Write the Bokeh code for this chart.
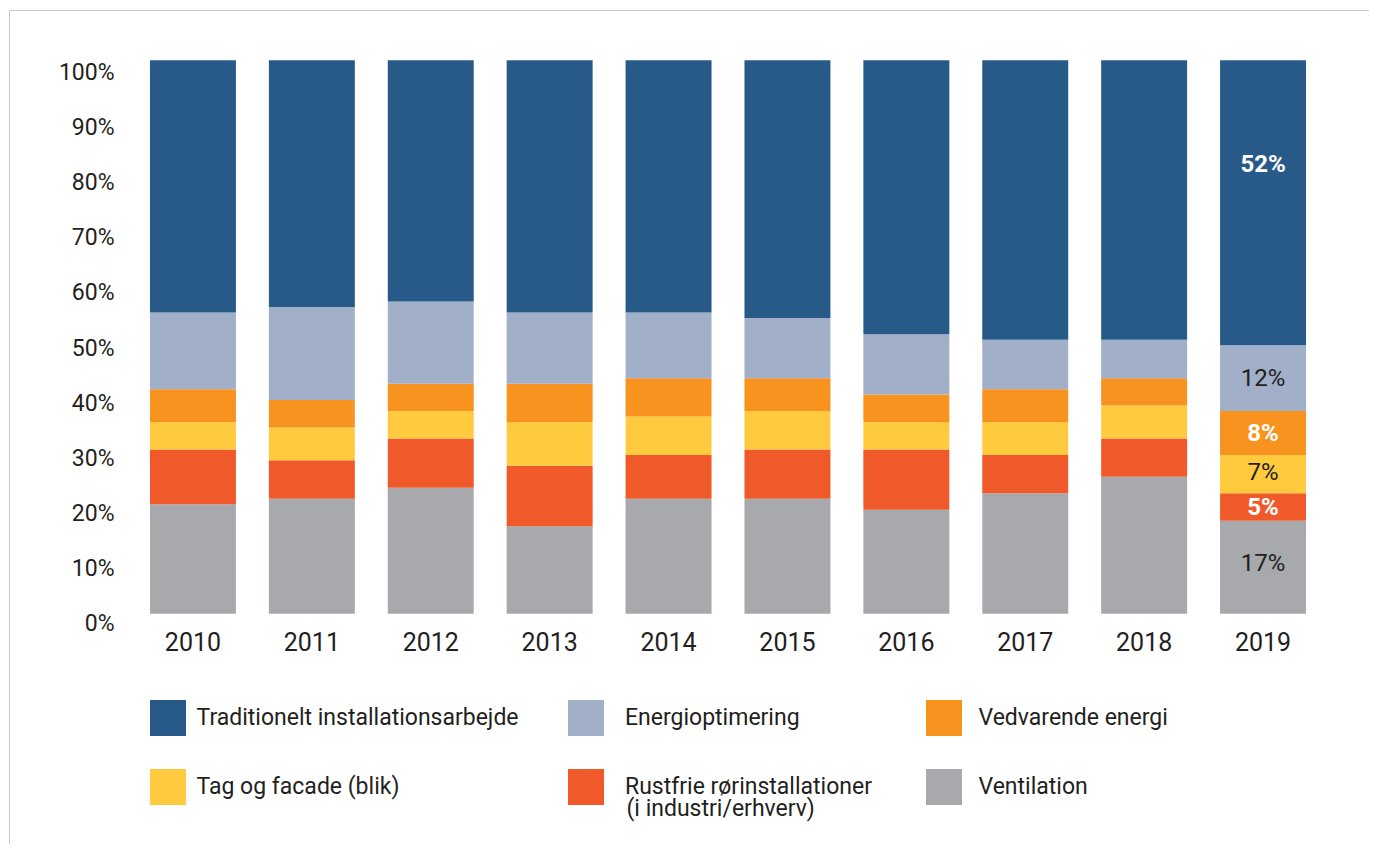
from bokeh.plotting import figure
from bokeh.models import (FactorRange, Range1d, LinearAxis, Legend, LegendItem,
                          Label, ColumnDataSource, FixedTicker)
from bokeh.core.properties import value
from bokeh.embed import file_html
from bokeh.resources import INLINE

# ---------------- data ----------------
years = ["2010", "2011", "2012", "2013", "2014", "2015", "2016", "2017", "2018", "2019"]

ventilation = [20, 21, 23, 16, 21, 21, 19, 22, 25, 17]
rustfrie = [10, 7, 9, 11, 8, 9, 11, 7, 7, 5]
tag_facade = [5, 6, 5, 8, 7, 7, 5, 6, 6, 7]
vedvarende = [6, 5, 5, 7, 7, 6, 5, 6, 5, 8]
energioptimering = [14, 17, 15, 13, 12, 11, 11, 9, 7, 12]
traditionelt = [46, 45, 44, 46, 46, 47, 50, 51, 51, 52]

series_names = ["Ventilation", "Rustfrie rørinstallationer", "Tag og facade (blik)",
                "Vedvarende energi", "Energioptimering", "Traditionelt installationsarbejde"]
series_name_line2 = "(i industri/erhverv)"
y_tick_values = [0, 10, 20, 30, 40, 50, 60, 70, 80, 90, 100]
y_tick_labels = ["0%", "10%", "20%", "30%", "40%", "50%", "60%", "70%", "80%", "90%", "100%"]

# ---------------- styles ----------------
keys = ["ventilation", "rustfrie", "tag", "vedvarende", "energi", "traditionelt"]
colors = ["#A8A9AD", "#F05A2B", "#FFCA3E", "#F7931E", "#A1AFC8", "#275A88"]
dark = "#231F20"
FONT = "Roboto"

src = ColumnDataSource(dict(year=years, ventilation=ventilation, rustfrie=rustfrie,
                            tag=tag_facade, vedvarende=vedvarende,
                            energi=energioptimering, traditionelt=traditionelt))

p = figure(x_range=FactorRange(factors=years, range_padding=0),
           y_range=Range1d(-42.28, 104.62),
           width=1360, height=834, output_backend="svg", toolbar_location=None,
           x_axis_location=None, y_axis_location=None,
           min_border_left=123, min_border_right=48, min_border_top=29, min_border_bottom=0)
p.styles = {"border-top": "1px solid #c8c8c8", "border-left": "1px solid #c8c8c8",
            "margin-left": "9px", "margin-top": "10px"}
p.extra_y_ranges = {"lab": Range1d(-40.19, 105.75)}
p.xgrid.visible = False
p.ygrid.visible = False
p.outline_line_color = None
p.background_fill_color = "white"
p.border_fill_color = "white"

rs = p.vbar_stack(keys, x="year", width=0.723, color=colors, line_width=0,
                  line_color=None, source=src)

# category labels under the bars
p.text(x=years, y=[0] * len(years), text=years, y_offset=28, text_align="center",
       text_baseline="middle", text_color=dark, text_font=value(FONT),
       text_font_size="25px")

# y axis (labels)
ya = LinearAxis(y_range_name="lab", ticker=FixedTicker(ticks=y_tick_values),
                major_label_overrides={v: l for v, l in zip(y_tick_values, y_tick_labels)})
ya.axis_line_color = None
ya.major_tick_line_color = None
ya.minor_tick_line_color = None
ya.major_tick_out = 0
ya.major_tick_in = 0
ya.minor_tick_out = 0
ya.major_label_standoff = 19
ya.major_label_text_font = FONT
ya.major_label_text_font_size = "23px"
ya.major_label_text_color = dark
p.add_layout(ya, "left")

# value labels for last year
last = [ventilation[-1], rustfrie[-1], tag_facade[-1], vedvarende[-1],
        energioptimering[-1], traditionelt[-1]]
mids = []
acc = 0
for v in last:
    mids.append(acc + v / 2)
    acc += v
label_txt = [f"{v}%" for v in last]
white_idx = [1, 3, 5]
dark_idx = [0, 2, 4]
offsets = [-4, 0, -2, 0, 0, -39]

src_w = ColumnDataSource(dict(x=[years[-1]] * 3, y=[mids[i] for i in white_idx],
                              t=[label_txt[i] for i in white_idx],
                              o=[offsets[i] for i in white_idx]))
src_d = ColumnDataSource(dict(x=[years[-1]] * 3, y=[mids[i] for i in dark_idx],
                              t=[label_txt[i] for i in dark_idx],
                              o=[offsets[i] for i in dark_idx]))
p.text(x="x", y="y", text="t", y_offset="o", source=src_w, text_align="center",
       text_baseline="middle", text_color="white", text_font=value(FONT),
       text_font_style="bold", text_font_size="24px")
p.text(x="x", y="y", text="t", y_offset="o", source=src_d, text_align="center",
       text_baseline="middle", text_color=dark, text_font=value(FONT),
       text_font_style="normal", text_font_size="24px")

# legends (three columns)
def make_legend(items, loc, standoff):
    return Legend(items=items, location=loc, orientation="vertical",
                  glyph_width=45, glyph_height=45, spacing=24, padding=0, margin=0,
                  label_standoff=standoff, label_text_font=FONT,
                  label_text_font_size="23px", label_text_color=dark,
                  border_line_color=None, background_fill_alpha=0)

leg1 = make_legend([LegendItem(label=series_names[5], renderers=[rs[5]]),
                    LegendItem(label=series_names[2], renderers=[rs[2]])], (11.5, 36.5), 7)
leg2 = make_legend([LegendItem(label=series_names[4], renderers=[rs[4]]),
                    LegendItem(label=series_names[1], renderers=[rs[1]])], (430, 36.5), 17)
leg3 = make_legend([LegendItem(label=series_names[3], renderers=[rs[3]]),
                    LegendItem(label=series_names[0], renderers=[rs[0]])], (787.5, 36.5), 13)
for lg in (leg1, leg2, leg3):
    p.add_layout(lg)

p.add_layout(Label(x=493, y=37, x_units="screen", y_units="screen",
                   text=series_name_line2, text_baseline="middle",
                   text_font=FONT, text_font_size="23px", text_color=dark))

open("out.html", "w").write(file_html(p, INLINE))
